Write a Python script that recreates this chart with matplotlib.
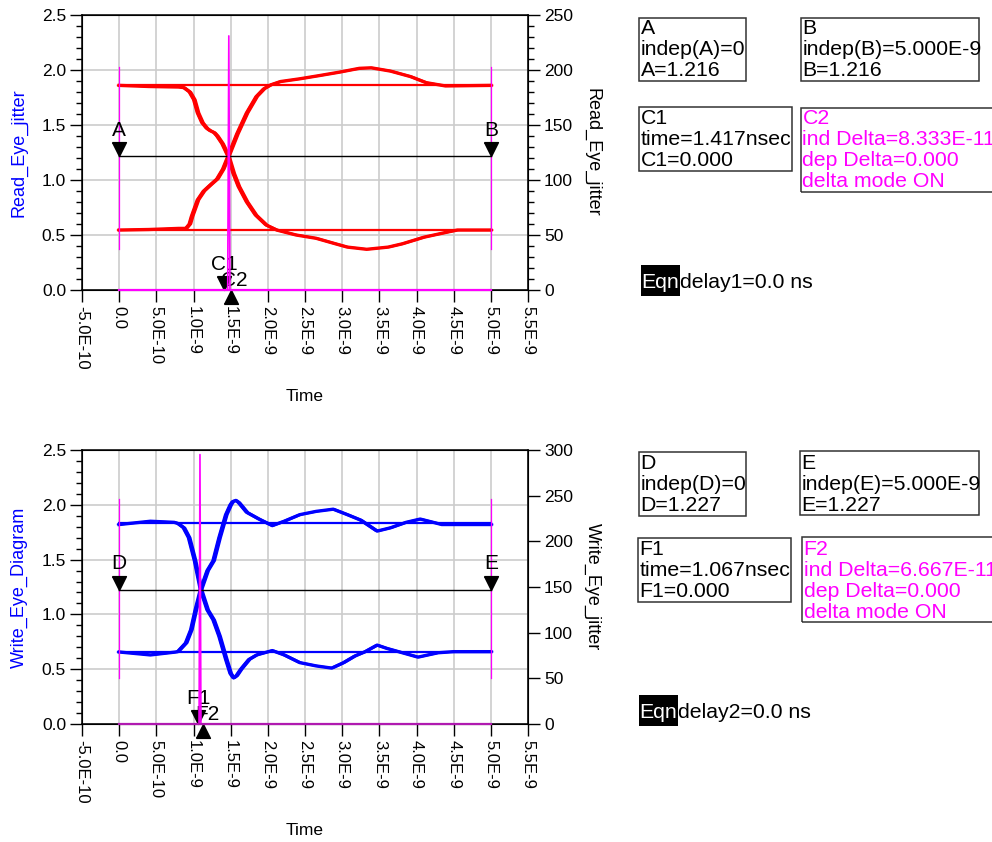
import numpy as np
import matplotlib
matplotlib.use("Agg")
import matplotlib.pyplot as plt
from matplotlib.patches import Rectangle
from matplotlib.ticker import MultipleLocator, FixedLocator, FormatStrFormatter
from matplotlib.path import Path

plt.rcParams['font.family'] = ['Liberation Sans', 'DejaVu Sans']

W, H = 992, 842

# ---- data (time in ns) ----
# read eye (top)
read_rail_hi = 1.86
read_rail_lo = 0.545
read_fall_t = [0, 0.4, 0.8, 0.87, 0.95, 1.01, 1.06, 1.12, 1.18, 1.22, 1.28, 1.32, 1.39, 1.47, 1.54, 1.61,
               1.72, 1.84, 1.98, 2.12, 2.38, 2.65, 2.91, 3.07, 3.33, 3.62, 3.81, 4.10, 4.44, 4.55, 5.0]
read_fall_v = [1.86, 1.85, 1.845, 1.84, 1.80, 1.73, 1.61, 1.52, 1.47, 1.45, 1.43, 1.40, 1.33, 1.216, 1.06,
               0.94, 0.80, 0.68, 0.59, 0.545, 0.50, 0.47, 0.42, 0.39, 0.37, 0.39, 0.42, 0.48, 0.53, 0.545,
               0.545]
read_rise_t = [0, 0.4, 0.8, 0.90, 0.95, 0.98, 1.06, 1.14, 1.22, 1.32, 1.40, 1.47, 1.59, 1.72, 1.85, 1.95,
               2.04, 2.17, 2.43, 2.70, 2.96, 3.23, 3.39, 3.65, 3.92, 4.13, 4.39, 5.0]
read_rise_v = [0.545, 0.55, 0.56, 0.56, 0.60, 0.67, 0.82, 0.90, 0.95, 1.01, 1.10, 1.216, 1.42, 1.61, 1.76,
               1.83, 1.865, 1.895, 1.92, 1.95, 1.98, 2.015, 2.02, 1.99, 1.94, 1.885, 1.855, 1.86]
read_span = [0.37, 2.03]
read_jit_t = [0, 1.46, 1.475, 1.49, 5.0]
read_jit_v = [0, 0, 231, 0, 0]

# write eye (bottom)
write_rail_hi = 1.83
write_rail_lo = 0.657
write_fall_t = [0, 0.42, 0.74, 0.79, 0.87, 0.94, 1.02, 1.10, 1.19, 1.27, 1.35, 1.44, 1.50, 1.54, 1.58,
                1.64, 1.75, 1.85, 2.06, 2.22, 2.43, 2.65, 2.86, 3.02, 3.17, 3.31, 3.47, 3.60, 3.81, 4.02,
                4.29, 4.50, 5.0]
write_fall_v = [1.82, 1.85, 1.84, 1.83, 1.79, 1.70, 1.49, 1.226, 1.04, 0.95, 0.80, 0.59, 0.46, 0.42, 0.44,
                0.50, 0.59, 0.63, 0.67, 0.63, 0.56, 0.53, 0.51, 0.56, 0.62, 0.66, 0.72, 0.69, 0.65, 0.61,
                0.65, 0.66, 0.66]
write_rise_t = [0, 0.42, 0.74, 0.79, 0.90, 0.97, 1.03, 1.10, 1.19, 1.27, 1.35, 1.44, 1.50, 1.53, 1.57,
                1.61, 1.72, 1.88, 2.06, 2.22, 2.43, 2.65, 2.88, 3.07, 3.25, 3.47, 3.65, 3.86, 4.05, 4.34,
                5.0]
write_rise_v = [0.657, 0.63, 0.655, 0.66, 0.74, 0.86, 1.04, 1.226, 1.40, 1.49, 1.70, 1.91, 2.00, 2.03,
                2.04, 2.02, 1.93, 1.87, 1.81, 1.85, 1.91, 1.94, 1.96, 1.91, 1.86, 1.76, 1.79, 1.84, 1.87,
                1.82, 1.82]
write_span = [0.42, 2.05]
write_jit_t = [0, 1.075, 1.087, 1.10, 5.0]
write_jit_v = [0, 0, 295, 0, 0]

# markers
marker_A = (0.0, 1.216)
marker_B = (5.0, 1.216)
marker_C1 = 1.417
marker_C2 = 1.500
marker_D = (0.0, 1.227)
marker_E = (5.0, 1.227)
marker_F1 = 1.067
marker_F2 = 1.133

xticks_ns = [-0.5, 0, 0.5, 1.0, 1.5, 2.0, 2.5, 3.0, 3.5, 4.0, 4.5, 5.0, 5.5]
xtick_labels = ["-5.0E-10", "0.0", "5.0E-10", "1.0E-9", "1.5E-9", "2.0E-9", "2.5E-9",
                "3.0E-9", "3.5E-9", "4.0E-9", "4.5E-9", "5.0E-9", "5.5E-9"]

ns = 1e-9
tri_down = Path([(-0.5, 1.0), (0.5, 1.0), (0.0, 0.0), (-0.5, 1.0)])
tri_up = Path([(-0.5, -1.0), (0.5, -1.0), (0.0, 0.0), (-0.5, -1.0)])

fig = plt.figure(figsize=(W / 100, H / 100), dpi=100)


def setup(ax, ylabel, rlabel, rmax, rminor):
    ax.set_xlim(-0.5 * ns, 5.5 * ns)
    ax.set_ylim(0, 2.5)
    ax.xaxis.set_major_locator(FixedLocator([t * ns for t in xticks_ns]))
    ax.set_xticklabels(xtick_labels, rotation=270, fontsize=12)
    ax.yaxis.set_major_locator(MultipleLocator(0.5))
    ax.yaxis.set_minor_locator(MultipleLocator(0.1))
    ax.yaxis.set_major_formatter(FormatStrFormatter('%.1f'))
    ax.tick_params(axis='y', which='major', labelsize=12.5)
    ax.tick_params(axis='both', which='major', direction='out', length=8.5, width=1, pad=3)
    ax.tick_params(axis='y', which='minor', direction='out', length=4.5, width=1)
    ax.grid(True, which='major', color='#cccccc', lw=1.2)
    ax.set_axisbelow(True)
    for s in ax.spines.values():
        s.set_linewidth(1.1)
    ax.set_ylabel(ylabel, color='blue', fontsize=13, labelpad=10)
    ax.set_xlabel("Time", fontsize=12.5, labelpad=14)
    axr = ax.twinx()
    axr.set_ylim(0, rmax)
    axr.yaxis.set_major_locator(MultipleLocator(50))
    if rminor:
        axr.yaxis.set_minor_locator(MultipleLocator(10))
    axr.tick_params(axis='y', which='major', direction='out', length=8.5, width=1, labelsize=12.5, pad=3)
    axr.tick_params(axis='y', which='minor', direction='out', length=4.5, width=1)
    axr.set_ylabel(rlabel, rotation=270, fontsize=13, labelpad=20)
    return axr


def eye(ax, axr, color, fall_t, fall_v, rise_t, rise_v, hi, lo, span, jit_t, jit_v,
        jcolor, base_color, m1, m2, n1, n2, ma, mb, na, nb):
    for dt, lw in [(0.0, 2.4), (0.02, 1.4), (-0.02, 1.2)]:
        ax.plot((np.array(fall_t) + dt) * ns, fall_v, color=color, lw=lw, solid_joinstyle='round')
        ax.plot((np.array(rise_t) + dt) * ns, rise_v, color=color, lw=lw, solid_joinstyle='round')
    ax.plot([0, 5 * ns], [hi, hi], color=color, lw=1.6)
    ax.plot([0, 5 * ns], [lo, lo], color=color, lw=1.6)
    for x in (0, 5 * ns):
        ax.plot([x, x], span, color='#ff00ff', lw=0.9)
    # level marker line
    ax.plot([ma[0] * ns, mb[0] * ns], [ma[1], mb[1]], color='black', lw=1)
    for (x, y), name in [(ma, na), (mb, nb)]:
        ax.plot([x * ns], [y], marker=tri_down, ms=20, color='black', ls='none', zorder=6)
        ax.text(x * ns, y + 0.15, name, ha='center', va='bottom', fontsize=15, zorder=6)
    # jitter trace on right axis
    axr.plot(np.array(jit_t) * ns, jit_v, color=jcolor, lw=1.2, zorder=3)
    axr.plot([0, 5 * ns], [0, 0], color=base_color, lw=1.6, zorder=3, clip_on=False)
    # delta markers
    ax.text(m2 * ns + 0.05 * ns, 0.0, n2, ha='center', va='bottom', fontsize=15, zorder=6)
    ax.plot([m1 * ns], [0], marker=tri_down, ms=20, color='black', ls='none', zorder=7, clip_on=False)
    ax.text(m1 * ns, 0.15, n1, ha='center', va='bottom', fontsize=15, zorder=6)
    ax.plot([m2 * ns], [0], marker=tri_up, ms=20, color='black', ls='none', zorder=7, clip_on=False)


ax1 = fig.add_axes([82 / W, 1 - 290 / H, 446 / W, 275 / H])
ax1r = setup(ax1, "Read_Eye_jitter", "Read_Eye_jitter", 250, True)
eye(ax1, ax1r, '#ff0000', read_fall_t, read_fall_v, read_rise_t, read_rise_v,
    read_rail_hi, read_rail_lo, read_span, read_jit_t, read_jit_v, '#ff00ff', '#ff00ff',
    marker_C1, marker_C2, "C1", "C2", marker_A, marker_B, "A", "B")

ax2 = fig.add_axes([82 / W, 1 - 724 / H, 446 / W, 274 / H])
ax2r = setup(ax2, "Write_Eye_Diagram", "Write_Eye_jitter", 300, False)
eye(ax2, ax2r, '#0000ff', write_fall_t, write_fall_v, write_rise_t, write_rise_v,
    write_rail_hi, write_rail_lo, write_span, write_jit_t, write_jit_v, '#ff00ff', '#b01ab0',
    marker_F1, marker_F2, "F1", "F2", marker_D, marker_E, "D", "E")

FS = 15.3


def box(x0, y0, x1, y1, lines, base0, color='black'):
    fig.add_artist(Rectangle((x0 / W, 1 - y1 / H), (x1 - x0) / W, (y1 - y0) / H,
                             transform=fig.transFigure, fill=False, ec='#333333', lw=1.1))
    for i, s in enumerate(lines):
        fig.text((x0 + 1.5) / W, 1 - (base0 + i * 21) / H, s, color=color, va='baseline', fontsize=FS)


def eqn(x0, y0, text):
    fig.add_artist(Rectangle((x0 / W, 1 - (y0 + 31) / H), 39 / W, 31 / H,
                             transform=fig.transFigure, fc='black', ec='none'))
    fig.text((x0 + 0.5) / W, 1 - (y0 + 23) / H, "Eqn", color='white', va='baseline', fontsize=FS)
    fig.text((x0 + 39) / W, 1 - (y0 + 23) / H, text, color='black', va='baseline', fontsize=FS)


box(639, 18, 746, 81, ["A", "indep(A)=0", "A=1.216"], 34)
box(801, 18, 979, 81, ["B", "indep(B)=5.000E-9", "B=1.216"], 34)
box(639, 107, 792, 171, ["C1", "time=1.417nsec", "C1=0.000"], 124)
box(801, 108, 998, 192, ["C2", "ind Delta=8.333E-11", "dep Delta=0.000", "delta mode ON"], 124,
    color='#ff00ff')
eqn(641, 265, "delay1=0.0 ns")

box(639, 452, 746, 516, ["D", "indep(D)=0", "D=1.227"], 469)
box(800, 451, 979, 515, ["E", "indep(E)=5.000E-9", "E=1.227"], 469)
box(638, 538, 791, 602, ["F1", "time=1.067nsec", "F1=0.000"], 555)
box(802, 537, 998, 622, ["F2", "ind Delta=6.667E-11", "dep Delta=0.000", "delta mode ON"], 555,
    color='#ff00ff')
eqn(639, 695, "delay2=0.0 ns")

fig.savefig("out.png", dpi=100)
